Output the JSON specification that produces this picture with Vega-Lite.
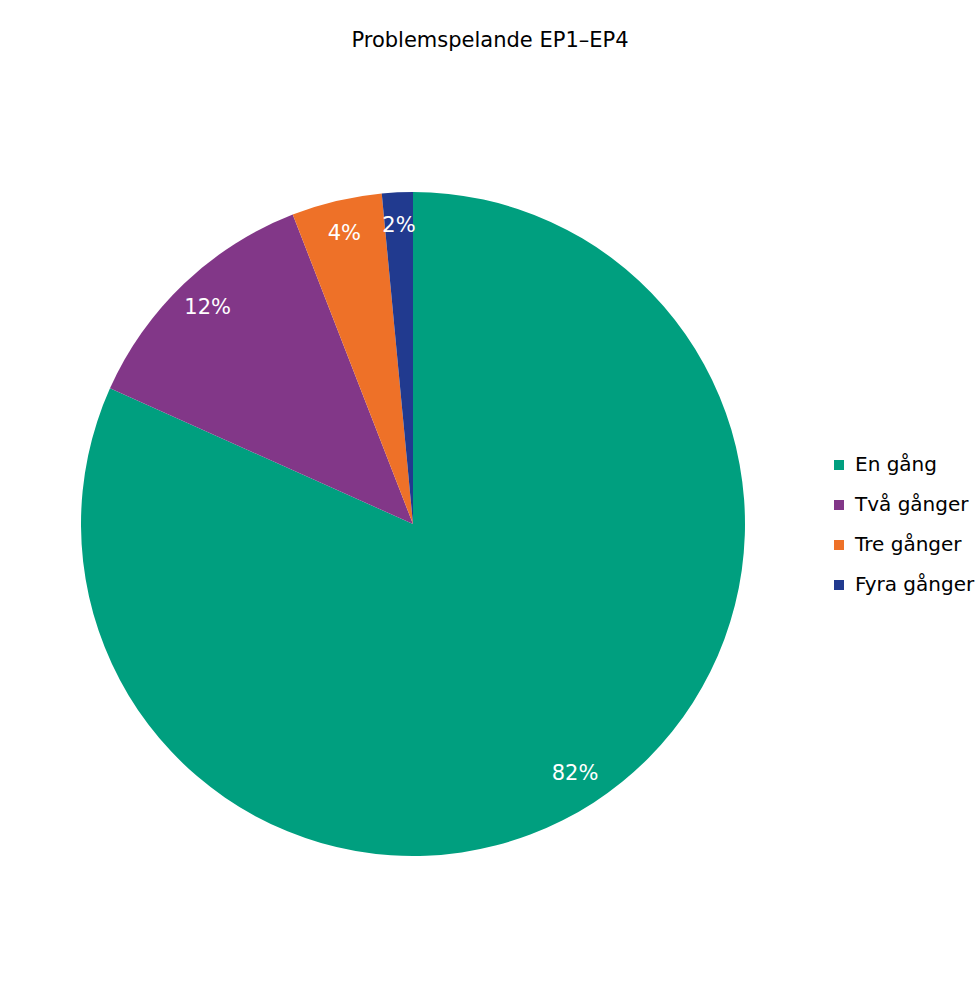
{
  "$schema": "https://vega.github.io/schema/vega-lite/v6.json",
  "width": 826,
  "height": 888,
  "autosize": {"type": "none"},
  "padding": {"top": 80, "left": 0, "right": 153, "bottom": 17},
  "background": "white",
  "title": {
    "text": "Problemspelande EP1–EP4",
    "font": "DejaVu Sans",
    "fontSize": 21,
    "fontWeight": "normal",
    "color": "#000000",
    "anchor": "middle",
    "dx": 77,
    "baseline": "alphabetic",
    "offset": 12
  },
  "config": {"view": {"stroke": null}},
  "data": {
    "values": [
      {"kategori": "En gång", "andel": 81.7, "ordning": 1, "etikett": "82%"},
      {"kategori": "Två gånger", "andel": 12.4, "ordning": 2, "etikett": "12%"},
      {"kategori": "Tre gånger", "andel": 4.4, "ordning": 3, "etikett": "4%"},
      {"kategori": "Fyra gånger", "andel": 1.5, "ordning": 4, "etikett": "2%"}
    ]
  },
  "encoding": {
    "theta": {"field": "andel", "type": "quantitative", "stack": true},
    "order": {"field": "ordning", "type": "quantitative", "sort": "ascending"}
  },
  "layer": [
    {
      "mark": {"type": "arc", "outerRadius": 332},
      "encoding": {
        "color": {
          "field": "kategori",
          "type": "nominal",
          "scale": {
            "domain": ["En gång", "Två gånger", "Tre gånger", "Fyra gånger"],
            "range": ["#009F7F", "#823788", "#EE7128", "#213A8F"]
          },
          "legend": {
            "title": null,
            "orient": "none",
            "legendX": 829,
            "legendY": 375,
            "symbolType": "square",
            "symbolSize": 100,
            "symbolStrokeWidth": 0,
            "labelFont": "DejaVu Sans",
            "labelFontSize": 20,
            "labelColor": "#000000",
            "labelOffset": 6,
            "rowPadding": 20
          }
        }
      }
    },
    {
      "mark": {"type": "text", "radius": 298, "font": "DejaVu Sans", "fontSize": 21, "color": "white"},
      "encoding": {
        "text": {"field": "etikett", "type": "nominal"}
      }
    }
  ]
}
